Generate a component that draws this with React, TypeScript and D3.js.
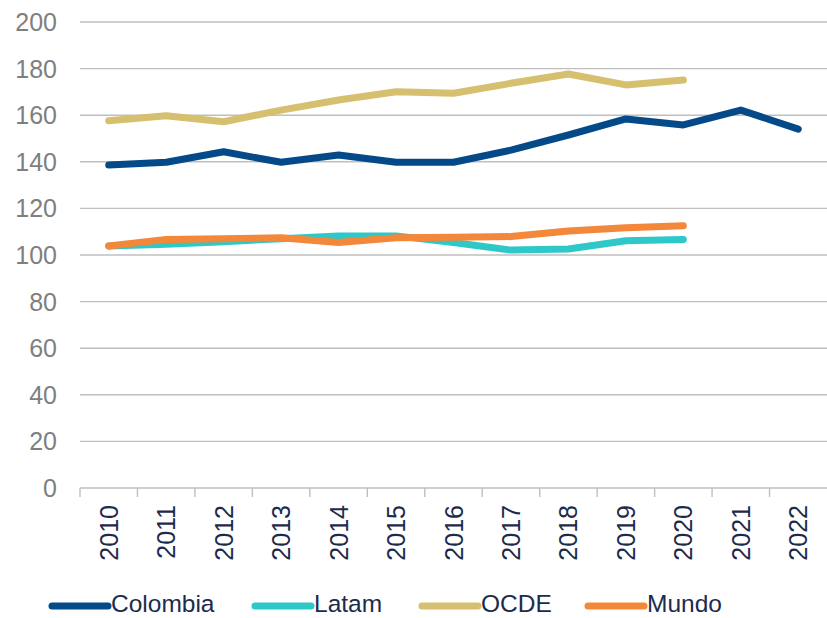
import React from "react";
import * as d3 from "d3";

const years = ["2010","2011","2012","2013","2014","2015","2016","2017","2018","2019","2020","2021","2022"];
const colombia = [138.6, 139.8, 144.3, 139.8, 142.9, 139.8, 139.8, 145, 151.5, 158.4, 155.8, 162.2, 154];
const latam = [103.9, 104.6, 105.7, 107, 108.2, 108.2, 105.4, 102.1, 102.6, 106.1, 106.7, null, null];
const ocde = [157.6, 159.8, 157.2, 162.2, 166.5, 170.1, 169.4, 173.7, 177.7, 173, 175.1, null, null];
const mundo = [103.9, 106.7, 107, 107.4, 105.4, 107.4, 107.6, 107.9, 110.3, 111.7, 112.6, null, null];
const yTicks = [0, 20, 40, 60, 80, 100, 120, 140, 160, 180, 200];

const seriesNames = ["Colombia", "Latam", "OCDE", "Mundo"];
const seriesValues = [colombia, latam, ocde, mundo];
const seriesColors = ["#044a89", "#2ec8c8", "#d6bf6f", "#f3873a"];

const W = 827, H = 618;
const left = 80, right = 827, top = 22, bottom = 488;
const font = "'Liberation Sans', Arial, sans-serif";

export default function App() {
  const x = d3.scaleBand<string>().domain(years).range([left, right]);
  const y = d3.scaleLinear().domain([0, 200]).range([bottom, top]);
  const line = d3.line<number | null>()
    .defined((d) => d != null)
    .x((_, i) => (x(years[i]) as number) + x.bandwidth() / 2)
    .y((d) => y(d as number));

  const legendX = [52, 255, 422, 588];

  return (
    <svg width={W} height={H} style={{ position: "absolute", left: 0, top: 0, background: "#fff" }}>
      {yTicks.map((t) => (
        <g key={t}>
          {t > 0 && (
            <line x1={left} x2={right} y1={y(t)} y2={y(t)} stroke="#bfbfbf" strokeWidth={1.4} />
          )}
          <text x={57} y={y(t)} dy="0.36em" textAnchor="end" fontFamily={font} fontSize={25} fill="#7f7f7f">
            {t}
          </text>
        </g>
      ))}
      <line x1={left} x2={right} y1={bottom} y2={bottom} stroke="#bfbfbf" strokeWidth={1.4} />
      {years.map((yr) => {
        const x0 = x(yr) as number;
        const cx = x0 + x.bandwidth() / 2;
        return (
          <g key={yr}>
            <line x1={x0} x2={x0} y1={bottom} y2={bottom + 9} stroke="#bfbfbf" strokeWidth={1.4} />
            <text
              x={cx}
              y={505}
              dy="0.36em"
              textAnchor="end"
              transform={`rotate(-90, ${cx}, 505)`}
              fontFamily={font}
              fontSize={25}
              fill="#1c2b4c"
            >
              {yr}
            </text>
          </g>
        );
      })}
      {seriesValues.map((vals, i) => (
        <path
          key={seriesNames[i]}
          d={line(vals) || ""}
          fill="none"
          stroke={seriesColors[i]}
          strokeWidth={7}
          strokeLinecap="round"
          strokeLinejoin="round"
        />
      ))}
      {seriesNames.map((n, i) => (
        <g key={n}>
          <line
            x1={legendX[i]}
            x2={legendX[i] + 56}
            y1={606}
            y2={606}
            stroke={seriesColors[i]}
            strokeWidth={7}
            strokeLinecap="round"
          />
          <text x={legendX[i] + 59} y={612} fontFamily={font} fontSize={24.5} fill="#1c2b4c">
            {n}
          </text>
        </g>
      ))}
    </svg>
  );
}
